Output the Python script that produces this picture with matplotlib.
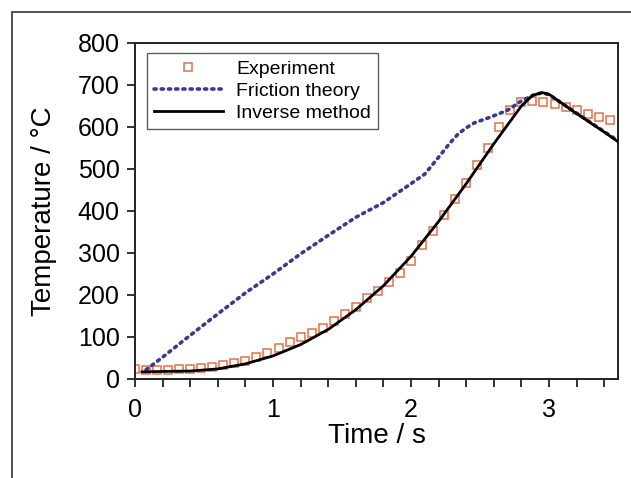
import matplotlib
matplotlib.use("Agg")
import matplotlib.pyplot as plt
from matplotlib.patches import Rectangle

plt.rcParams['font.family'] = ['Liberation Sans', 'DejaVu Sans']

# Experiment (squares)
exp_t = [0.00, 0.08, 0.16, 0.24, 0.32, 0.40, 0.48, 0.56, 0.64, 0.72, 0.80, 0.88,
         0.96, 1.04, 1.12, 1.20, 1.28, 1.36, 1.44, 1.52, 1.60, 1.68, 1.76, 1.84,
         1.92, 2.00, 2.08, 2.16, 2.24, 2.32, 2.40, 2.48, 2.56, 2.64, 2.72, 2.80,
         2.88, 2.96, 3.04, 3.12, 3.20, 3.28, 3.36, 3.44]
exp_T = [24, 22, 22, 22, 23, 24, 26, 29, 33, 38, 44, 52,
         62, 75, 87, 99, 109, 122, 138, 154, 172, 192, 210, 230,
         252, 282, 320, 353, 390, 428, 467, 510, 550, 600, 640, 660,
         662, 660, 655, 648, 640, 632, 625, 617]

# Friction theory (dotted)
fr_t = [0.08, 0.2, 0.4, 0.6, 0.8, 1.0, 1.2, 1.4, 1.6, 1.8, 2.0, 2.1, 2.2,
        2.27, 2.34, 2.4, 2.46, 2.58, 2.7, 2.8, 2.9, 2.95, 3.0, 3.1, 3.2,
        3.3, 3.4, 3.5]
fr_T = [22, 52, 104, 155, 205, 250, 298, 342, 385, 420, 465, 488, 528,
        557, 583, 598, 610, 624, 640, 662, 678, 681, 677, 655, 633,
        611, 589, 567]

# Inverse method (solid)
inv_t = [0.05, 0.2, 0.4, 0.6, 0.8, 1.0, 1.2, 1.4, 1.6, 1.8, 2.0, 2.2, 2.4,
         2.6, 2.8, 2.88, 2.95, 3.0, 3.1, 3.2, 3.3, 3.4, 3.5]
inv_T = [17, 18, 19, 24, 36, 55, 82, 118, 165, 222, 292, 375, 465,
         560, 650, 675, 682, 678, 655, 632, 610, 588, 565]

x_ticks = [0, 1, 2, 3]
y_ticks = [0, 100, 200, 300, 400, 500, 600, 700, 800]

fig = plt.figure(figsize=(6.31, 4.78), dpi=100)
ax = fig.add_axes([135/631, 1-379/478, 483/631, 336/478])

ax.plot(fr_t, fr_T, linestyle=(0, (0.6, 1.4)), color='#3a3a8e', lw=2.6,
        dash_capstyle='round', label='Friction theory', zorder=3)
ax.plot(inv_t, inv_T, '-', color='black', lw=2.0, label='Inverse method', zorder=4)
ax.plot(exp_t, exp_T, 's', mfc='none', mec='#e0704c', mew=1.1, ms=5.5,
        label='Experiment', zorder=2)

ax.set_xlim(0, 3.5)
ax.set_ylim(0, 800)
ax.set_xticks(x_ticks)
ax.set_xticks([i*0.2 for i in range(18)], minor=True)
ax.set_yticks(y_ticks)
ax.tick_params(axis='both', which='both', direction='out', length=6, width=1.3,
               labelsize=18, color='#222222')
ax.tick_params(axis='x', pad=8)
ax.tick_params(axis='y', pad=5)
for s in ax.spines.values():
    s.set_linewidth(1.4)
    s.set_color('#222222')

ax.set_xlabel('Time / s', fontsize=20)
ax.set_ylabel('Temperature / °C', fontsize=20)
ax.xaxis.set_label_coords(0.5, -0.13)
ax.yaxis.set_label_coords(-0.162, 0.5)

h, l = ax.get_legend_handles_labels()
order = [2, 0, 1]
leg = ax.legend([h[i] for i in order], [l[i] for i in order],
                loc='upper left', bbox_to_anchor=(0.025, 0.97),
                fontsize=14, frameon=True, fancybox=False, edgecolor='#333333',
                handlelength=3.5, handletextpad=0.7, labelspacing=0.22,
                borderpad=0.38, borderaxespad=0)
leg.get_frame().set_linewidth(1.0)

# outer frame
fig.patches.append(Rectangle((12/631, -0.05), 1.1, 1 - 12/478 + 0.05,
                             transform=fig.transFigure, fill=False,
                             edgecolor='#333333', lw=1.2))

fig.savefig('out.png', dpi=100)
